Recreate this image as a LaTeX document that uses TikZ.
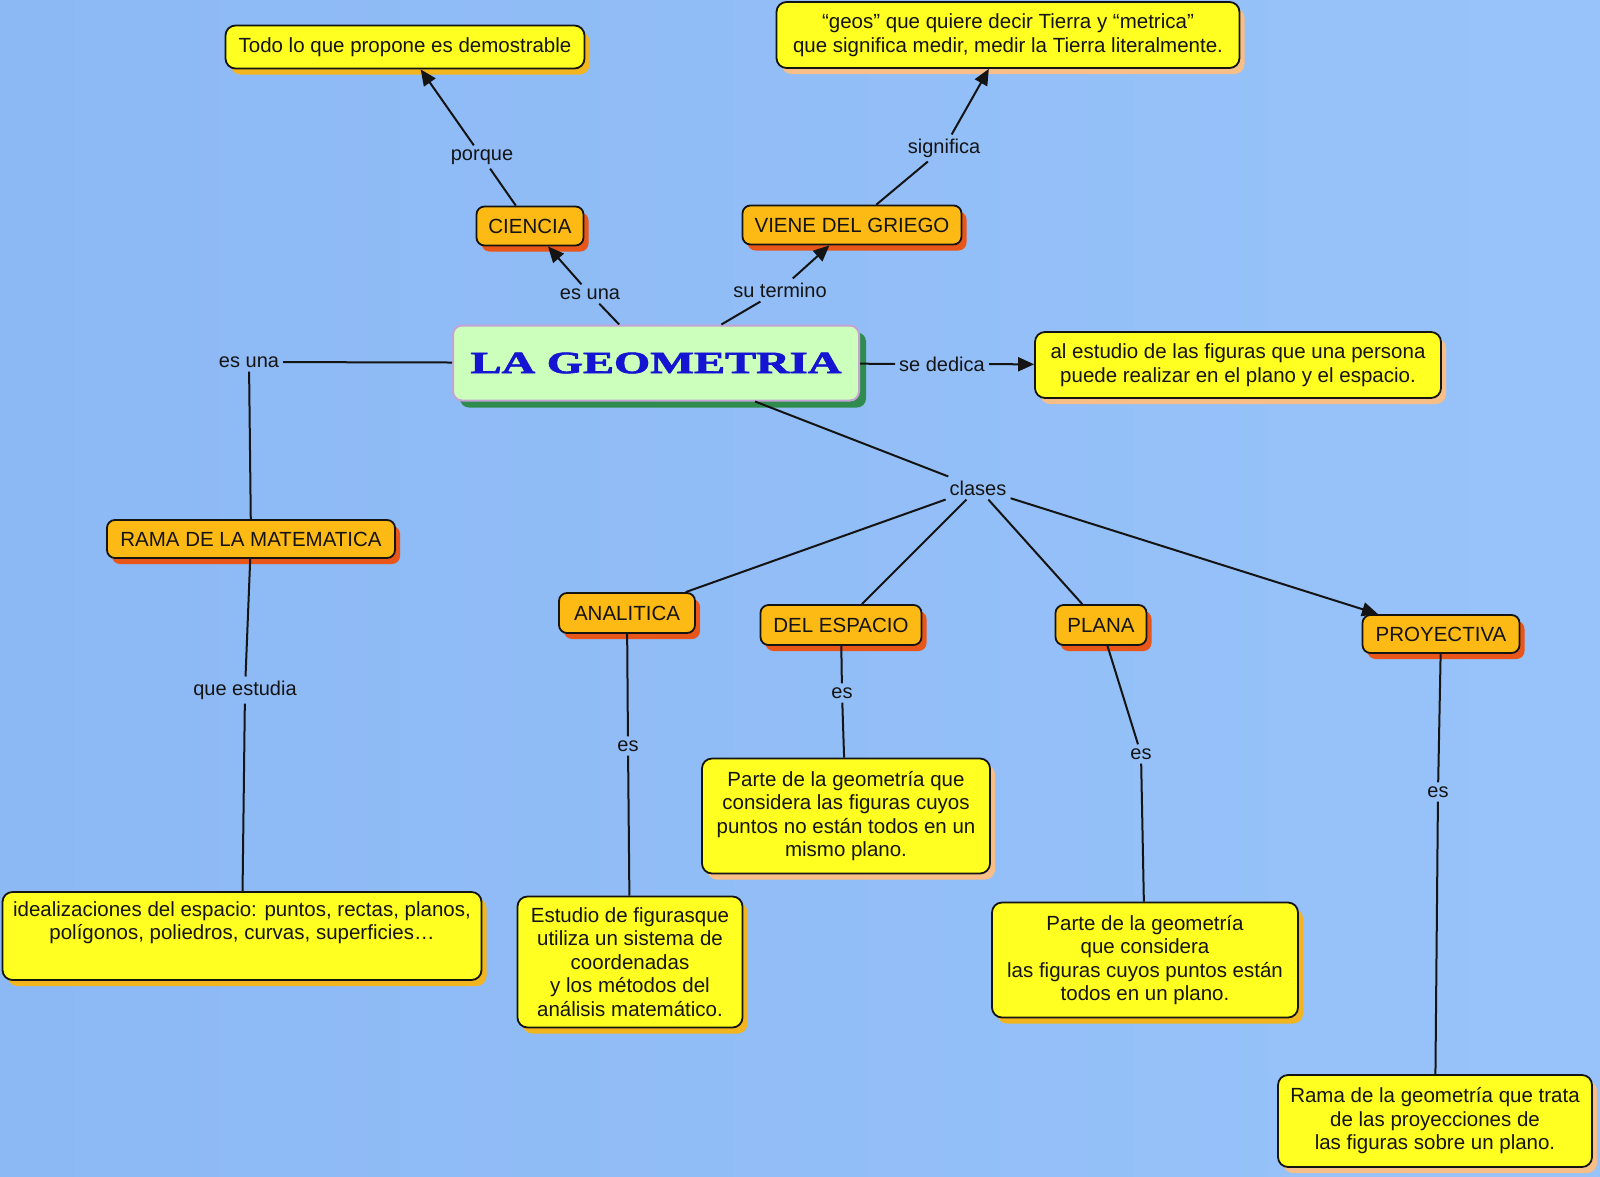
\documentclass[tikz,border=0pt]{standalone}
\usepackage{fontspec}
\usepackage{graphicx}
\setmainfont{Liberation Sans}
\newfontfamily\titlefont[FakeBold=2]{Liberation Serif}
\usetikzlibrary{shadows,arrows.meta}
\definecolor{bgleft}{HTML}{8CB8F4}
\definecolor{bgright}{HTML}{98C3FA}
\definecolor{ofill}{HTML}{FDBA14}
\definecolor{oshadow}{HTML}{E8561A}
\definecolor{yfill}{HTML}{FFFF22}
\definecolor{goldshadow}{HTML}{F2B51E}
\definecolor{peachshadow}{HTML}{F7BE88}
\definecolor{gfill}{HTML}{CCFFBB}
\definecolor{gborder}{HTML}{C4A2D6}
\definecolor{gshadow}{HTML}{2F8C4E}
\definecolor{titleblue}{HTML}{1414D2}
\definecolor{txt}{HTML}{141414}
\definecolor{linec}{HTML}{141414}
\tikzset{
  boxbase/.style={draw=linec, line width=1.8pt, inner sep=2pt, text=txt, align=center,
    font=\fontsize{20.5}{23.5}\selectfont},
  obox/.style={boxbase, fill=ofill, rounded corners=8pt,
    drop shadow={shadow xshift=5pt, shadow yshift=-6pt, fill=oshadow, opacity=1}},
  ybox/.style={boxbase, fill=yfill, rounded corners=10pt},
  goldsh/.style={drop shadow={shadow xshift=5pt, shadow yshift=-6pt, fill=goldshadow, opacity=1}},
  peachsh/.style={drop shadow={shadow xshift=5pt, shadow yshift=-6pt, fill=peachshadow, opacity=1}},
  lbl/.style={inner sep=4pt, text=txt, font=\fontsize{20}{22}\selectfont},
  conn/.style={draw=linec, line width=2pt},
  arr/.style={conn, -{Triangle[length=16pt,width=14pt]}},
}
\begin{document}
\begin{tikzpicture}[x=1pt,y=-1pt]
\useasboundingbox (0,0) rectangle (1600,1176);
\shade[left color=bgleft, right color=bgright] (0,0) rectangle (1600,1176);

% concept nodes
\node[ybox, goldsh, minimum width=359pt, minimum height=43pt] (todo) at (405,47) {Todo lo que propone es demostrable};
\node[ybox, peachsh, minimum width=463pt, minimum height=66pt] (geos) at (1008,35) {“geos” que quiere decir Tierra y “metrica”\\ que significa medir, medir la Tierra literalmente.};
\node[obox, minimum width=107pt, minimum height=39pt] (ciencia) at (530,226) {CIENCIA};
\node[obox, minimum width=219pt, minimum height=39pt] (viene) at (852,225) {VIENE DEL GRIEGO};
\node[draw=gborder, line width=2pt, fill=gfill, rounded corners=9pt, minimum width=406pt, minimum height=75pt,
  drop shadow={shadow xshift=7pt, shadow yshift=-7pt, fill=gshadow, opacity=1},
  text=titleblue] (geom) at (656,363)
  {\raisebox{-2pt}{\scalebox{1.5}[1]{\fontsize{31}{34}\selectfont\titlefont\bfseries LA GEOMETRIA}}};
\node[ybox, peachsh, minimum width=406pt, minimum height=66pt] (dedica) at (1238,365) {al estudio de las figuras que una persona\\ puede realizar en el plano y el espacio.};
\node[obox, minimum width=288pt, minimum height=38pt] (rama) at (251,539) {RAMA DE LA MATEMATICA};
\node[obox, minimum width=136pt, minimum height=40pt] (analitica) at (627,613) {ANALITICA};
\node[obox, minimum width=161pt, minimum height=40pt] (espacio) at (841,625) {DEL ESPACIO};
\node[obox, minimum width=91pt, minimum height=40pt] (plana) at (1101,625) {PLANA};
\node[obox, minimum width=157pt, minimum height=38pt] (proy) at (1441,634) {PROYECTIVA};
\node[ybox, goldsh, minimum width=479pt, minimum height=88pt] (ideal) at (242,936) {idealizaciones del espacio: puntos, rectas, planos,\\ polígonos, poliedros, curvas, superficies…\\ \strut};
\node[ybox, goldsh, minimum width=225pt, minimum height=131pt] (estudio) at (630,962) {Estudio de figurasque\\ utiliza un sistema de\\ coordenadas\\ y los métodos del\\ análisis matemático.};
\node[ybox, peachsh, minimum width=288pt, minimum height=115pt] (partee) at (846,816) {Parte de la geometría que\\ considera las figuras cuyos\\ puntos no están todos en un\\ mismo plano.};
\node[ybox, goldsh, minimum width=306pt, minimum height=115pt] (partep) at (1145,960) {Parte de la geometría\\ que considera\\ las figuras cuyos puntos están\\ todos en un plano.};
\node[ybox, peachsh, minimum width=314pt, minimum height=92pt] (ramag) at (1435,1121) {Rama de la geometría que trata\\ de las proyecciones de\\ las figuras sobre un plano.};

% link labels
\node[lbl] (porque) at (482,157) {porque};
\node[lbl] (significa) at (944,148) {significa};
\node[lbl] (esuna1) at (590,294) {es una};
\node[lbl] (sutermino) at (780,290) {su termino};
\node[lbl] (esuna2) at (249,362) {es una};
\node[lbl] (sededica) at (942,364) {se dedica};
\node[lbl] (clases) at (978,488) {clases};
\node[lbl] (queestudia) at (245,690) {que estudia};
\node[lbl] (es1) at (628,746) {es};
\node[lbl] (es2) at (842,693) {es};
\node[lbl] (es3) at (1141,754) {es};
\node[lbl] (es4) at (1438,792) {es};

% connectors
\draw[conn] (ciencia) -- (porque);
\draw[arr] (porque) -- (todo);
\draw[conn] (viene) -- (significa);
\draw[arr] (significa) -- (geos);
\draw[conn] (geom) -- (esuna1);
\draw[arr] (esuna1) -- (ciencia);
\draw[conn] (geom) -- (sutermino);
\draw[arr] (sutermino) -- (viene);
\draw[conn] (geom) -- (sededica);
\draw[arr] (sededica) -- (dedica);
\draw[conn] (geom) -- (esuna2);
\draw[conn] (esuna2) -- (rama);
\draw[conn] (rama) -- (queestudia);
\draw[conn] (queestudia) -- (ideal);
\draw[conn] (geom) -- (clases);
\draw[conn] (clases) -- (analitica);
\draw[conn] (clases) -- (espacio);
\draw[conn] (clases) -- (plana);
\draw[arr] (clases) -- (proy);
\draw[conn] (analitica) -- (es1);
\draw[conn] (es1) -- (estudio);
\draw[conn] (espacio) -- (es2);
\draw[conn] (es2) -- (partee);
\draw[conn] (plana) -- (es3);
\draw[conn] (es3) -- (partep);
\draw[conn] (proy) -- (es4);
\draw[conn] (es4) -- (ramag);
\end{tikzpicture}
\end{document}
